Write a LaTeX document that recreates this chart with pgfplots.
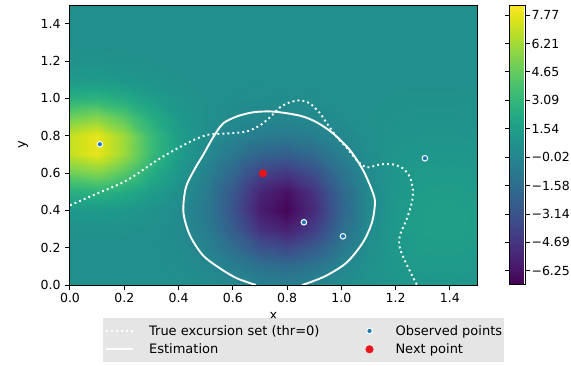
\documentclass[border=0pt]{standalone}
\usepackage{pgfplots}
\pgfplotsset{compat=1.18}
\usepackage{fontspec}
\setmainfont{DejaVu Sans}
\definecolor{mplblue}{HTML}{1F77B4}
\definecolor{legfill}{HTML}{DEDEDE}
\definecolor{mplred}{HTML}{E8141C}
\pgfplotsset{
  linelegend/.style={legend image code/.code={\draw[##1, draw opacity=1] (0pt,0pt) -- (27pt,0pt); \path[draw=none, fill=none] (0pt,0pt) -- (43pt,0pt);}},
  marklegend/.style={legend image code/.code={\path[draw=none, fill=none] (0pt,0pt) -- (50pt,0pt); \draw[##1, fill opacity=1, draw opacity=1] plot coordinates {(24pt,0pt)};}},
}
\begin{document}
\begin{tikzpicture}
\begin{axis}[
  at={(70pt,-285pt)}, anchor=south west,
  scale only axis, width=407pt, height=280pt,
  xmin=0, xmax=1.5, ymin=0, ymax=1.5,
  enlargelimits=false,
  axis on top,
  axis line style={line width=1pt},
  tick pos=left, tick align=outside,
  major tick length=4.5pt,
  every tick/.style={black, line width=1pt},
  xtick={0,0.2,0.4,0.6,0.8,1.0,1.2,1.4},
  ytick={0,0.2,0.4,0.6,0.8,1.0,1.2,1.4},
  /pgf/number format/.cd, fixed, fixed zerofill, precision=1, assume math mode=true, /pgfplots/.cd,
  tick label style={font=\fontsize{12.5}{15}\selectfont},
  yticklabel style={xshift=-1.5pt},
  xlabel={x}, ylabel={y},
  every axis x label/.style={at={(axis description cs:0.5,-0.110)}, anchor=center, font=\fontsize{13}{15}\selectfont},
  every axis y label/.style={at={(axis description cs:-0.115,0.5)}, rotate=90, anchor=center, font=\fontsize{13}{15}\selectfont},
  colormap/viridis,
  point meta min=-7.03, point meta max=8.32,
  colorbar,
  colorbar style={
    at={(parent axis.north east)}, anchor=north west, xshift=24pt,
    width=16pt,
    ytick={7.77,6.21,4.65,3.09,1.54,-0.02,-1.58,-3.14,-4.69,-6.25},
    yticklabels={7.77,6.21,4.65,3.09,1.54,−0.02,−1.58,−3.14,−4.69,−6.25},
    yticklabel pos=right,
    tick align=outside, major tick length=4.5pt,
    every tick/.style={black, line width=1pt},
    axis line style={line width=1pt},
    tick label style={font=\fontsize{12.5}{15}\selectfont},
    yticklabel style={xshift=-2pt},
  },
  legend columns=2,
  legend cell align=left,
  legend style={
    at={(0.081,-0.118)}, anchor=north west,
    fill=legfill, draw=none, fill opacity=0.8, text opacity=1,
    font=\fontsize{13}{15}\selectfont,
    inner xsep=2pt, inner ysep=7pt,
    row sep=7pt,
    nodes={inner sep=0pt},
    /tikz/every even column/.append style={column sep=26pt},
  },
]
\addplot[surf, shader=interp, mesh/cols=16, point meta=explicit, forget plot] coordinates {
(0,0)[0.60] (0.1,0)[0.60] (0.2,0)[0.60] (0.3,0)[0.59] (0.4,0)[0.55] (0.5,0)[0.41] (0.6,0)[0.11] (0.7,0)[-0.24] (0.8,0)[-0.34] (0.9,0)[-0.06] (1.0,0)[0.42] (1.1,0)[0.80] (1.2,0)[1.01] (1.3,0)[1.09] (1.4,0)[1.10] (1.5,0)[1.05]

(0,0.1)[0.60] (0.1,0.1)[0.60] (0.2,0.1)[0.60] (0.3,0.1)[0.58] (0.4,0.1)[0.48] (0.5,0.1)[0.15] (0.6,0.1)[-0.56] (0.7,0.1)[-1.39] (0.8,0.1)[-1.67] (0.9,0.1)[-1.07] (1.0,0.1)[-0.06] (1.1,0.1)[0.73] (1.2,0.1)[1.13] (1.3,0.1)[1.28] (1.4,0.1)[1.30] (1.5,0.1)[1.22]

(0,0.2)[0.62] (0.1,0.2)[0.62] (0.2,0.2)[0.61] (0.3,0.2)[0.57] (0.4,0.2)[0.38] (0.5,0.2)[-0.24] (0.6,0.2)[-1.56] (0.7,0.2)[-3.12] (0.8,0.2)[-3.68] (0.9,0.2)[-2.63] (1.0,0.2)[-0.84] (1.1,0.2)[0.54] (1.2,0.2)[1.21] (1.3,0.2)[1.44] (1.4,0.2)[1.47] (1.5,0.2)[1.38]

(0,0.3)[0.73] (0.1,0.3)[0.74] (0.2,0.3)[0.70] (0.3,0.3)[0.60] (0.4,0.3)[0.29] (0.5,0.3)[-0.64] (0.6,0.3)[-2.58] (0.7,0.3)[-4.89] (0.8,0.3)[-5.74] (0.9,0.3)[-4.24] (1.0,0.3)[-1.67] (1.1,0.3)[0.30] (1.2,0.3)[1.22] (1.3,0.3)[1.53] (1.4,0.3)[1.57] (1.5,0.3)[1.47]

(0,0.4)[1.21] (0.1,0.4)[1.29] (0.2,0.4)[1.12] (0.3,0.4)[0.80] (0.4,0.4)[0.31] (0.5,0.4)[-0.84] (0.6,0.4)[-3.13] (0.7,0.4)[-5.85] (0.8,0.4)[-6.86] (0.9,0.4)[-5.13] (1.0,0.4)[-2.15] (1.1,0.4)[0.13] (1.2,0.4)[1.18] (1.3,0.4)[1.52] (1.4,0.4)[1.57] (1.5,0.4)[1.47]

(0,0.5)[2.58] (0.1,0.5)[2.82] (0.2,0.5)[2.29] (0.3,0.5)[1.41] (0.4,0.5)[0.55] (0.5,0.5)[-0.70] (0.6,0.5)[-2.88] (0.7,0.5)[-5.43] (0.8,0.5)[-6.38] (0.9,0.5)[-4.77] (1.0,0.5)[-1.99] (1.1,0.5)[0.13] (1.2,0.5)[1.11] (1.3,0.5)[1.43] (1.4,0.5)[1.47] (1.5,0.5)[1.38]

(0,0.6)[4.92] (0.1,0.6)[5.46] (0.2,0.6)[4.29] (0.3,0.6)[2.46] (0.4,0.6)[1.00] (0.5,0.6)[-0.26] (0.6,0.6)[-1.98] (0.7,0.6)[-3.89] (0.8,0.6)[-4.59] (0.9,0.6)[-3.38] (1.0,0.6)[-1.30] (1.1,0.6)[0.28] (1.2,0.6)[1.02] (1.3,0.6)[1.26] (1.4,0.6)[1.29] (1.5,0.6)[1.22]

(0,0.7)[6.98] (0.1,0.7)[7.78] (0.2,0.7)[6.06] (0.3,0.7)[3.39] (0.4,0.7)[1.42] (0.5,0.7)[0.23] (0.6,0.7)[-0.90] (0.7,0.7)[-2.05] (0.8,0.7)[-2.46] (0.9,0.7)[-1.74] (1.0,0.7)[-0.48] (1.1,0.7)[0.47] (1.2,0.7)[0.93] (1.3,0.7)[1.08] (1.4,0.7)[1.10] (1.5,0.7)[1.05]

(0,0.8)[6.98] (0.1,0.8)[7.78] (0.2,0.8)[6.06] (0.3,0.8)[3.41] (0.4,0.8)[1.51] (0.5,0.8)[0.55] (0.6,0.8)[-0.09] (0.7,0.8)[-0.65] (0.8,0.8)[-0.84] (0.9,0.8)[-0.48] (1.0,0.8)[0.13] (1.1,0.8)[0.60] (1.2,0.8)[0.83] (1.3,0.8)[0.91] (1.4,0.8)[0.92] (1.5,0.8)[0.89]

(0,0.9)[4.92] (0.1,0.9)[5.46] (0.2,0.9)[4.30] (0.3,0.9)[2.50] (0.4,0.9)[1.24] (0.5,0.9)[0.65] (0.6,0.9)[0.35] (0.7,0.9)[0.14] (0.8,0.9)[0.07] (0.9,0.9)[0.21] (1.0,0.9)[0.46] (1.1,0.9)[0.65] (1.2,0.9)[0.74] (1.3,0.9)[0.78] (1.4,0.9)[0.78] (1.5,0.9)[0.76]

(0,1.0)[2.58] (0.1,1.0)[2.82] (0.2,1.0)[2.29] (0.3,1.0)[1.47] (0.4,1.0)[0.90] (0.5,1.0)[0.64] (0.6,1.0)[0.53] (0.7,1.0)[0.47] (0.8,1.0)[0.45] (0.9,1.0)[0.50] (1.0,1.0)[0.58] (1.1,1.0)[0.64] (1.2,1.0)[0.68] (1.3,1.0)[0.69] (1.4,1.0)[0.69] (1.5,1.0)[0.68]

(0,1.1)[1.21] (0.1,1.1)[1.29] (0.2,1.1)[1.13] (0.3,1.1)[0.87] (0.4,1.1)[0.69] (0.5,1.1)[0.61] (0.6,1.1)[0.59] (0.7,1.1)[0.57] (0.8,1.1)[0.57] (0.9,1.1)[0.58] (1.0,1.1)[0.61] (1.1,1.1)[0.63] (1.2,1.1)[0.64] (1.3,1.1)[0.64] (1.4,1.1)[0.64] (1.5,1.1)[0.64]

(0,1.2)[0.73] (0.1,1.2)[0.75] (0.2,1.2)[0.71] (0.3,1.2)[0.66] (0.4,1.2)[0.62] (0.5,1.2)[0.60] (0.6,1.2)[0.60] (0.7,1.2)[0.59] (0.8,1.2)[0.59] (0.9,1.2)[0.60] (1.0,1.2)[0.61] (1.1,1.2)[0.61] (1.2,1.2)[0.62] (1.3,1.2)[0.62] (1.4,1.2)[0.62] (1.5,1.2)[0.62]

(0,1.3)[0.62] (0.1,1.3)[0.62] (0.2,1.3)[0.62] (0.3,1.3)[0.61] (0.4,1.3)[0.60] (0.5,1.3)[0.60] (0.6,1.3)[0.60] (0.7,1.3)[0.60] (0.8,1.3)[0.60] (0.9,1.3)[0.60] (1.0,1.3)[0.60] (1.1,1.3)[0.61] (1.2,1.3)[0.61] (1.3,1.3)[0.61] (1.4,1.3)[0.61] (1.5,1.3)[0.61]

(0,1.4)[0.60] (0.1,1.4)[0.60] (0.2,1.4)[0.60] (0.3,1.4)[0.60] (0.4,1.4)[0.60] (0.5,1.4)[0.60] (0.6,1.4)[0.60] (0.7,1.4)[0.60] (0.8,1.4)[0.60] (0.9,1.4)[0.60] (1.0,1.4)[0.60] (1.1,1.4)[0.60] (1.2,1.4)[0.60] (1.3,1.4)[0.60] (1.4,1.4)[0.60] (1.5,1.4)[0.60]

(0,1.5)[0.60] (0.1,1.5)[0.60] (0.2,1.5)[0.60] (0.3,1.5)[0.60] (0.4,1.5)[0.60] (0.5,1.5)[0.60] (0.6,1.5)[0.60] (0.7,1.5)[0.60] (0.8,1.5)[0.60] (0.9,1.5)[0.60] (1.0,1.5)[0.60] (1.1,1.5)[0.60] (1.2,1.5)[0.60] (1.3,1.5)[0.60] (1.4,1.5)[0.60] (1.5,1.5)[0.60]
};
% True excursion set (dotted)
\addplot[white, line width=1.9pt, dash pattern=on 1.9pt off 3.1pt, smooth, tension=0.5, linelegend]
coordinates {
(0,0.427) (0.085,0.481) (0.210,0.561) (0.332,0.679) (0.431,0.759) (0.479,0.791) (0.516,0.807)
(0.590,0.813) (0.652,0.823) (0.700,0.855) (0.737,0.898) (0.774,0.952) (0.811,0.979) (0.847,0.989)
(0.884,0.973) (0.921,0.920) (0.947,0.866) (0.984,0.791) (1.021,0.732) (1.057,0.668) (1.094,0.630)
(1.142,0.646) (1.190,0.646) (1.227,0.625) (1.253,0.577) (1.264,0.507) (1.260,0.443) (1.242,0.357)
(1.216,0.266) (1.216,0.197) (1.242,0.106) (1.279,0)
};
\addlegendentry{True excursion set (thr=0)}
% Observed points
\addplot[only marks, mark=*, mark size=2.8pt, mark options={fill=mplblue, draw=white, line width=1pt}, marklegend]
coordinates {(0.110,0.754) (0.862,0.336) (1.006,0.261) (1.308,0.679)};
\addlegendentry{Observed points}
% Estimation (solid)
\addplot[white, line width=1.9pt, smooth, tension=0.5, linelegend]
coordinates {
(0.685,0) (0.615,0.036) (0.553,0.089) (0.490,0.159) (0.442,0.266) (0.418,0.389) (0.427,0.522)
(0.461,0.625) (0.490,0.695) (0.527,0.790) (0.564,0.865) (0.615,0.903) (0.674,0.925) (0.737,0.930)
(0.800,0.920) (0.858,0.903) (0.910,0.871) (0.969,0.813) (1.032,0.722) (1.080,0.615) (1.113,0.507)
(1.124,0.443) (1.113,0.336) (1.080,0.229) (1.021,0.122) (0.947,0.052) (0.884,0.014) (0.855,0)
};
\addlegendentry{Estimation}
% Next point
\addplot[only marks, mark=*, mark size=3.8pt, color=mplred, marklegend]
coordinates {(0.711,0.598)};
\addlegendentry{Next point}
\end{axis}
\pgfresetboundingbox
\useasboundingbox (0pt,0pt) rectangle (571pt,-365pt);
\end{tikzpicture}
\end{document}
